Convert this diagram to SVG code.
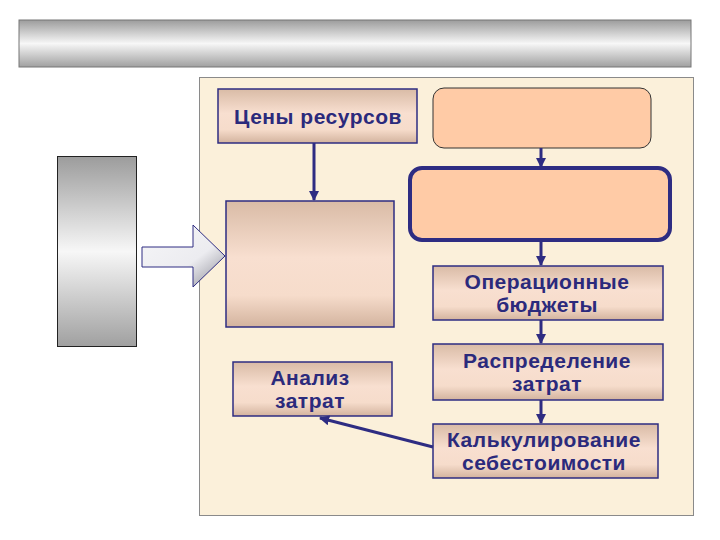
<svg xmlns="http://www.w3.org/2000/svg" width="720" height="540" viewBox="0 0 720 540">
<defs>
<linearGradient id="gray" x1="0" y1="0" x2="0" y2="1">
<stop offset="0" stop-color="#9c9c9c"/><stop offset="0.5" stop-color="#f7f7f7"/><stop offset="1" stop-color="#a0a0a0"/>
</linearGradient>
<linearGradient id="tan" x1="0" y1="0" x2="0" y2="1">
<stop offset="0" stop-color="#d9bba6"/><stop offset="0.45" stop-color="#f8dfd0"/><stop offset="0.75" stop-color="#f6dccb"/><stop offset="1" stop-color="#d3b39e"/>
</linearGradient>
<linearGradient id="arr" x1="0" y1="0" x2="1" y2="1">
<stop offset="0" stop-color="#f6f6f8"/><stop offset="0.6" stop-color="#ececf0"/><stop offset="1" stop-color="#8a8a95"/>
</linearGradient>
<marker id="ah" viewBox="0 0 10 10" refX="9" refY="5" markerWidth="3.4" markerHeight="3.4" orient="auto" markerUnits="strokeWidth">
<path d="M0,0 L10,5 L0,10 z" fill="#2e2c82"/>
</marker>
<style>
.box{fill:url(#tan);stroke:#2e2c82;stroke-width:1.5}
.t{font-family:"Liberation Sans",Arial,sans-serif;font-weight:bold;font-size:21px;letter-spacing:0.5px;fill:#2b2a7c;text-anchor:middle}
.c{stroke:#2e2c82;stroke-width:3;fill:none;marker-end:url(#ah)}
</style>
</defs>
<rect width="720" height="540" fill="#ffffff"/>
<g id="title"><rect x="19" y="20" width="672" height="47" fill="url(#gray)" stroke="#777" stroke-width="1"/></g>
<g id="panel"><rect x="199.5" y="77.5" width="494" height="438" fill="#fbf0da" stroke="#8a8a8a" stroke-width="1"/></g>
<g id="leftbar"><rect x="57.5" y="156.5" width="79" height="190" fill="url(#gray)" stroke="#222" stroke-width="1"/></g>
<g id="blockarrow"><polygon points="142,247 193,247 193,225 225,256 193,287 193,267 142,267" fill="url(#arr)" stroke="#2e2c82" stroke-width="1"/></g>
<g id="prices"><rect class="box" x="218" y="89" width="199" height="54"/><text class="t" x="318" y="124">Цены ресурсов</text></g>
<g id="topright"><rect x="433" y="88" width="218" height="60" rx="11" fill="#ffcba6" stroke="#333" stroke-width="1"/></g>
<g id="midright"><rect x="410" y="168" width="260" height="72" rx="12" fill="#ffcba6" stroke="#2e2c82" stroke-width="4"/></g>
<g id="leftmid"><rect class="box" x="226" y="201" width="168" height="126"/></g>
<g id="budgets"><rect class="box" x="433" y="266" width="230" height="54"/><text class="t" x="547" y="289">Операционные</text><text class="t" x="547" y="312">бюджеты</text></g>
<g id="distribution"><rect class="box" x="433" y="344" width="230" height="56"/><text class="t" x="547" y="368">Распределение</text><text class="t" x="547" y="391">затрат</text></g>
<g id="analysis"><rect class="box" x="233" y="362" width="159" height="54"/><text class="t" x="310" y="385">Анализ</text><text class="t" x="310" y="408">затрат</text></g>
<g id="costing"><rect class="box" x="433" y="424" width="225" height="54"/><text class="t" x="544" y="447">Калькулирование</text><text class="t" x="544" y="470">себестоимости</text></g>
<g id="connectors">
<line class="c" x1="314" y1="143" x2="314" y2="200"/>
<line class="c" x1="541" y1="148" x2="541" y2="167"/>
<line class="c" x1="541" y1="240" x2="541" y2="265"/>
<line class="c" x1="541" y1="320" x2="541" y2="343"/>
<line class="c" x1="541" y1="400" x2="541" y2="423"/>
<line class="c" x1="433" y1="447" x2="320" y2="418"/>
</g>
</svg>
